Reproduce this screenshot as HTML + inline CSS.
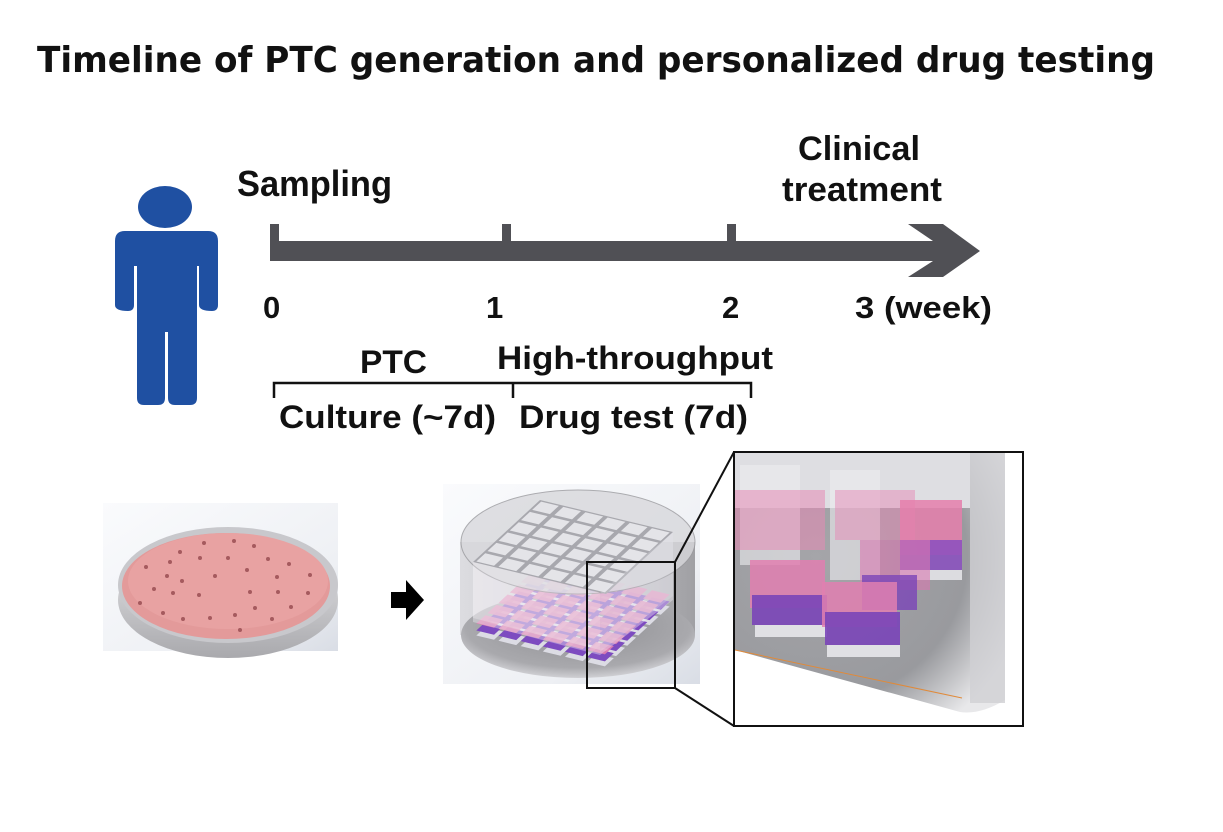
<!DOCTYPE html>
<html><head><meta charset="utf-8"><style>
html,body{margin:0;padding:0;background:#fff;}
svg{display:block;}
text{font-family:"Liberation Sans",Arial,sans-serif;font-weight:bold;fill:#111;}
</style></head><body>
<svg width="1223" height="832" viewBox="0 0 1223 832" xmlns="http://www.w3.org/2000/svg">
<defs>
<linearGradient id="bg1" x1="0" y1="0" x2="1" y2="1"><stop offset="0" stop-color="#fafbfd"/><stop offset="0.7" stop-color="#eef0f4"/><stop offset="1" stop-color="#d9dde5"/></linearGradient>
<linearGradient id="rim" x1="0" y1="0" x2="0" y2="1"><stop offset="0" stop-color="#e8e8ea"/><stop offset="1" stop-color="#a9a9ad"/></linearGradient>
<linearGradient id="cyl" x1="0" y1="0" x2="1" y2="0"><stop offset="0" stop-color="#dcdce0"/><stop offset="0.5" stop-color="#c9c9cd"/><stop offset="1" stop-color="#a0a0a4"/></linearGradient>
<radialGradient id="bot" cx="0.5" cy="0.4" r="0.6"><stop offset="0" stop-color="#8e8e92"/><stop offset="0.8" stop-color="#a9a9ad"/><stop offset="1" stop-color="#d0d0d4"/></radialGradient>
<radialGradient id="zg" cx="0.3" cy="0.4" r="0.8"><stop offset="0" stop-color="#a5a5a9"/><stop offset="0.7" stop-color="#999a9e"/><stop offset="1" stop-color="#e8e8ea"/></radialGradient>
<g id="cells">
<rect x="0.1" y="0.1" width="0.8" height="0.8"/><rect x="1.1" y="0.1" width="0.8" height="0.8"/><rect x="2.1" y="0.1" width="0.8" height="0.8"/><rect x="3.1" y="0.1" width="0.8" height="0.8"/><rect x="4.1" y="0.1" width="0.8" height="0.8"/><rect x="5.1" y="0.1" width="0.8" height="0.8"/>
<rect x="0.1" y="1.1" width="0.8" height="0.8"/><rect x="1.1" y="1.1" width="0.8" height="0.8"/><rect x="2.1" y="1.1" width="0.8" height="0.8"/><rect x="3.1" y="1.1" width="0.8" height="0.8"/><rect x="4.1" y="1.1" width="0.8" height="0.8"/><rect x="5.1" y="1.1" width="0.8" height="0.8"/>
<rect x="0.1" y="2.1" width="0.8" height="0.8"/><rect x="1.1" y="2.1" width="0.8" height="0.8"/><rect x="2.1" y="2.1" width="0.8" height="0.8"/><rect x="3.1" y="2.1" width="0.8" height="0.8"/><rect x="4.1" y="2.1" width="0.8" height="0.8"/><rect x="5.1" y="2.1" width="0.8" height="0.8"/>
<rect x="0.1" y="3.1" width="0.8" height="0.8"/><rect x="1.1" y="3.1" width="0.8" height="0.8"/><rect x="2.1" y="3.1" width="0.8" height="0.8"/><rect x="3.1" y="3.1" width="0.8" height="0.8"/><rect x="4.1" y="3.1" width="0.8" height="0.8"/><rect x="5.1" y="3.1" width="0.8" height="0.8"/>
<rect x="0.1" y="4.1" width="0.8" height="0.8"/><rect x="1.1" y="4.1" width="0.8" height="0.8"/><rect x="2.1" y="4.1" width="0.8" height="0.8"/><rect x="3.1" y="4.1" width="0.8" height="0.8"/><rect x="4.1" y="4.1" width="0.8" height="0.8"/><rect x="5.1" y="4.1" width="0.8" height="0.8"/>
<rect x="0.1" y="5.1" width="0.8" height="0.8"/><rect x="1.1" y="5.1" width="0.8" height="0.8"/><rect x="2.1" y="5.1" width="0.8" height="0.8"/><rect x="3.1" y="5.1" width="0.8" height="0.8"/><rect x="4.1" y="5.1" width="0.8" height="0.8"/><rect x="5.1" y="5.1" width="0.8" height="0.8"/>
</g>
</defs>

<text x="37" y="72" font-size="36" textLength="1118" lengthAdjust="spacingAndGlyphs" style="font-family:'DejaVu Sans','Liberation Sans',sans-serif">Timeline of PTC generation and personalized drug testing</text>

<!-- person -->
<g fill="#1f50a2">
<ellipse cx="165" cy="207" rx="27" ry="21"/>
<path d="M125 231 H208 Q218 231 218 241 V305 Q218 311 212 311 Q199 311 199 305 V266 H197 V398 Q197 405 190 405 H175 Q168 405 168 398 V332 H165 V398 Q165 405 158 405 H144 Q137 405 137 398 V266 H134 V305 Q134 311 128 311 Q115 311 115 305 V241 Q115 231 125 231 Z"/>
</g>

<!-- timeline -->
<g fill="#505055">
<rect x="270" y="241" width="665" height="20"/>
<rect x="270" y="224" width="9" height="20"/>
<rect x="502" y="224" width="9" height="20"/>
<rect x="727" y="224" width="9" height="20"/>
<polygon points="908,224 943,224 980,251 943,277 908,277 933,261 933,241"/>
</g>

<text x="237" y="196" font-size="36" textLength="155" lengthAdjust="spacingAndGlyphs">Sampling</text>
<text x="798" y="160" font-size="34" textLength="122" lengthAdjust="spacingAndGlyphs">Clinical</text>
<text x="782" y="201" font-size="34" textLength="160" lengthAdjust="spacingAndGlyphs">treatment</text>
<text x="263" y="318" font-size="31">0</text>
<text x="486" y="318" font-size="31">1</text>
<text x="722" y="318" font-size="31">2</text>
<text x="855" y="318" font-size="31" textLength="137" lengthAdjust="spacingAndGlyphs">3 (week)</text>
<text x="360" y="373" font-size="32" textLength="67" lengthAdjust="spacingAndGlyphs">PTC</text>
<text x="497" y="369" font-size="32" textLength="276" lengthAdjust="spacingAndGlyphs">High-throughput</text>
<path d="M274 398 V383 H751 V398 M513 383 V398" fill="none" stroke="#111" stroke-width="2.5"/>
<text x="279" y="428" font-size="32" textLength="217" lengthAdjust="spacingAndGlyphs">Culture (~7d)</text>
<text x="519" y="428" font-size="32" textLength="229" lengthAdjust="spacingAndGlyphs">Drug test (7d)</text>

<!-- dish -->
<rect x="103" y="503" width="235" height="148" fill="url(#bg1)"/>
<ellipse cx="228" cy="600" rx="110" ry="58" fill="url(#rim)"/>
<ellipse cx="228" cy="585" rx="110" ry="58" fill="#c8c8cc"/>
<ellipse cx="226" cy="586" rx="104" ry="53" fill="#e39a9a"/>
<ellipse cx="228" cy="581" rx="100" ry="48" fill="#e8a2a2"/>
<g fill="#a55a5e">
<circle cx="204" cy="543" r="2"/><circle cx="234" cy="541" r="2"/><circle cx="254" cy="546" r="2"/><circle cx="180" cy="552" r="2"/>
<circle cx="200" cy="558" r="2"/><circle cx="228" cy="558" r="2"/><circle cx="268" cy="559" r="2"/><circle cx="289" cy="564" r="2"/>
<circle cx="146" cy="567" r="2"/><circle cx="170" cy="562" r="2"/><circle cx="167" cy="576" r="2"/><circle cx="182" cy="581" r="2"/>
<circle cx="215" cy="576" r="2"/><circle cx="247" cy="570" r="2"/><circle cx="277" cy="577" r="2"/><circle cx="310" cy="575" r="2"/>
<circle cx="154" cy="589" r="2"/><circle cx="173" cy="593" r="2"/><circle cx="199" cy="595" r="2"/><circle cx="250" cy="592" r="2"/>
<circle cx="278" cy="592" r="2"/><circle cx="308" cy="593" r="2"/><circle cx="140" cy="603" r="2"/><circle cx="255" cy="608" r="2"/>
<circle cx="291" cy="607" r="2"/><circle cx="163" cy="613" r="2"/><circle cx="183" cy="619" r="2"/><circle cx="210" cy="618" r="2"/>
<circle cx="235" cy="615" r="2"/><circle cx="272" cy="619" r="2"/><circle cx="240" cy="630" r="2"/>
</g>

<!-- arrow -->
<polygon points="391,592 406,592 406,580 424,600 406,620 406,608 391,608" fill="#000"/>

<!-- device -->
<rect x="443" y="484" width="257" height="200" fill="url(#bg1)"/>
<rect x="460" y="542" width="235" height="93" fill="url(#cyl)"/>
<ellipse cx="578" cy="635" rx="117" ry="43" fill="url(#bot)"/>
<!-- wells -->
<g transform="matrix(22.17,5.33,-11.17,10.33,540,574)"><use href="#cells" fill="#dcdce4"/></g>
<g transform="matrix(22.17,5.33,-11.17,10.33,540,569)"><use href="#cells" fill="#7d4bc0"/></g>
<g transform="matrix(22.17,5.33,-11.17,10.33,540,562)"><use href="#cells" fill="#e07fb0" opacity="0.9"/></g>
<!-- translucent pillars -->
<polygon points="473,562 600,593 673,532 673,600 600,655 473,622" fill="#f0eef4" opacity="0.4"/>
<ellipse cx="578" cy="542" rx="117" ry="52" fill="#d8d8dc" opacity="0.8" stroke="#9a9a9e" stroke-width="1"/>
<g transform="matrix(22.17,5.33,-11.17,10.33,540,500)">
<rect x="0" y="0" width="6" height="6" fill="#a8a8ae"/>
<use href="#cells" fill="#e4e4e8"/>
</g>
<polygon points="473,562 600,593 600,650 473,618" fill="#f4f2f6" opacity="0.3"/>
<polygon points="600,593 673,532 673,596 600,652" fill="#e8e6ee" opacity="0.25"/>

<rect x="587" y="562" width="88" height="126" fill="none" stroke="#111" stroke-width="2"/>
<line x1="675" y1="562" x2="734" y2="452" stroke="#111" stroke-width="2"/>
<line x1="675" y1="688" x2="734" y2="726" stroke="#111" stroke-width="2"/>

<!-- zoom panel -->
<rect x="734" y="452" width="289" height="274" fill="#fff"/>
<path d="M735 453 H1005 V700 Q980 715 960 712 L735 650 Z" fill="url(#zg)"/>
<rect x="735" y="453" width="235" height="55" fill="#dedee2"/>
<rect x="970" y="453" width="35" height="250" fill="#cfcfd3" opacity="0.8"/>
<g>
<rect x="740" y="465" width="60" height="100" fill="#ececf0" opacity="0.6"/>
<rect x="830" y="470" width="50" height="110" fill="#ececf0" opacity="0.6"/>
<rect x="735" y="490" width="90" height="60" fill="#e58ab5" opacity="0.55"/>
<rect x="835" y="490" width="80" height="50" fill="#e58ab5" opacity="0.5"/>
<rect x="900" y="500" width="62" height="55" fill="#e57fab" opacity="0.85"/>
<rect x="900" y="540" width="62" height="30" fill="#8a4fc0" opacity="0.85"/>
<rect x="900" y="570" width="62" height="10" fill="#dcdce0"/>
<rect x="860" y="540" width="70" height="50" fill="#d878b0" opacity="0.6"/>
<rect x="862" y="575" width="55" height="35" fill="#7a45b8" opacity="0.8"/>
<rect x="750" y="560" width="75" height="48" fill="#e07fb0" opacity="0.85"/>
<rect x="752" y="595" width="75" height="30" fill="#7a45b8" opacity="0.9"/>
<rect x="755" y="625" width="72" height="12" fill="#e0e0e4"/>
<rect x="822" y="582" width="75" height="45" fill="#e07fb0" opacity="0.85"/>
<rect x="825" y="612" width="75" height="33" fill="#7a45b8" opacity="0.9"/>
<rect x="827" y="645" width="73" height="12" fill="#e0e0e4"/>
</g>
<line x1="735" y1="650" x2="962" y2="698" stroke="#e08a3a" stroke-width="1"/>
<rect x="734" y="452" width="289" height="274" fill="none" stroke="#111" stroke-width="2"/>
</svg>
</body></html>
